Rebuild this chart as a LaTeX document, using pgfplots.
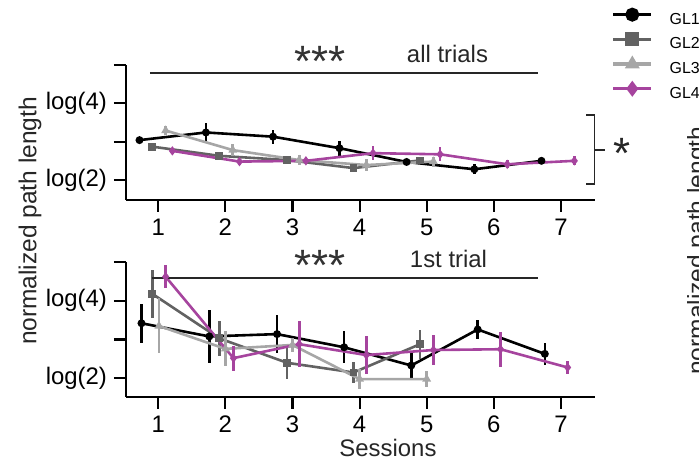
\documentclass[border=0pt]{standalone}
\usepackage{pgfplots}
\usepackage{pgfplotstable}
\pgfplotsset{compat=1.18}
\usepackage{fontspec}
\setmainfont{Liberation Sans}
\definecolor{gltwo}{RGB}{98,98,98}
\definecolor{glthree}{RGB}{166,166,166}
\definecolor{glfour}{RGB}{166,68,158}

% ---- top panel: all trials ----
\pgfplotstableread{
x y e
0.72 3.04 0.06
1.71 3.24 0.24
2.71 3.13 0.18
3.70 2.83 0.20
4.70 2.47 0.08
5.71 2.28 0.13
6.71 2.50 0.02
}\topA
\pgfplotstableread{
x y e
0.91 2.87 0.06
1.91 2.63 0.03
2.92 2.52 0.05
3.91 2.31 0.08
4.90 2.51 0.05
}\topB
\pgfplotstableread{
x y e
1.11 3.29 0.12
2.11 2.78 0.16
3.10 2.52 0.13
4.10 2.39 0.16
5.10 2.48 0.13
}\topC
\pgfplotstableread{
x y e
1.21 2.76 0.08
2.21 2.48 0.08
3.20 2.50 0.06
4.20 2.70 0.18
5.20 2.67 0.18
6.20 2.41 0.10
7.20 2.50 0.12
}\topD
% ---- bottom panel: 1st trial ----
\pgfplotstableread{
x y e
0.75 3.42 0.50
1.76 3.08 0.69
2.77 3.14 0.49
3.77 2.80 0.41
4.77 2.33 0.33
5.76 3.26 0.25
6.76 2.63 0.28
}\botA
\pgfplotstableread{
x y e
0.91 4.18 0.62
1.91 3.03 0.45
2.92 2.40 0.43
3.91 2.15 0.28
4.90 2.88 0.37
}\botB
\pgfplotstableread{
x y e
1.01 3.35 0.71
2.00 2.76 0.45
3.00 2.86 0.18
4.00 1.98 0.25
5.00 1.98 0.20
}\botC
\pgfplotstableread{
x y e
1.11 4.62 0.30
2.12 2.52 0.32
3.10 2.88 0.59
4.10 2.60 0.49
5.10 2.73 0.39
6.10 2.75 0.45
7.10 2.28 0.16
}\botD

\pgfplotsset{
  panel/.style={
    width=234.5bp, height=67.5bp, scale only axis,
    xmin=0.519, xmax=7.508,
    axis x line*=bottom, axis y line*=left,
    axis line style={-, line width=1.1bp, black},
    xtick={1,2,3,4,5,6,7}, ytick={2,3,4,5},
    yticklabels={log(2),,log(4),},
    tick align=outside, major tick length=6bp,
    tick style={line width=1.1bp, black},
    xtick pos=left, ytick pos=left,
    ticklabel style={font=\fontsize{12}{14}\selectfont},
    /pgf/number format/assume math mode=true,
    clip=false,
  },
  glbase/.style={line width=1.3bp, mark size=1.3bp,
    error bars/y dir=both, error bars/y explicit, error bars/error mark=none,
    error bars/error bar style={line width=1.3bp}},
  gla/.style={glbase, black, mark=*},
  glb/.style={glbase, gltwo, mark=square*},
  glc/.style={glbase, glthree, mark=triangle*},
  gld/.style={glbase, glfour, mark=diamond*},
}

\begin{document}
\begin{tikzpicture}
\begin{axis}[panel, at={(63bp,130bp)}, anchor=south west,
  ymin=1.478, ymax=5.0,
  legend style={at={(1.0356,1.4215)}, anchor=north west, draw=none, fill=none,
    inner sep=0pt, outer sep=0pt, font=\fontsize{8}{9}\selectfont,
    nodes={inner sep=0pt, text height=8bp, text depth=4.35bp},
    column sep=8.4bp, row sep=0pt, cells={anchor=west}},
  legend image code/.code={\draw[mark repeat=2, mark phase=2, line width=1.6bp, mark size=2.7bp]
    plot coordinates {(0bp,2.9bp) (9.5bp,2.9bp) (19bp,2.9bp)};},
]
\addplot[gla] table[x=x, y=y, y error=e] {\topA}; \addlegendentry{GL1}
\addplot[glb] table[x=x, y=y, y error=e] {\topB}; \addlegendentry{GL2}
\addplot[glc] table[x=x, y=y, y error=e] {\topC}; \addlegendentry{GL3}
\addplot[gld] table[x=x, y=y, y error=e] {\topD}; \addlegendentry{GL4}
\draw[line width=0.9bp, black!85] (axis cs:0.876,4.79) -- (axis cs:6.656,4.79);
\node[font=\fontsize{22}{22}\selectfont, text=black!80, inner sep=0pt] at (axis cs:3.41,5.10) {***};
\node[font=\fontsize{12}{14}\selectfont, text=black!85, anchor=base, inner sep=0pt] at (axis cs:5.31,5.07) {all trials};
\draw[line width=0.9bp, black!85] (axis cs:7.376,3.696) -- (axis cs:7.501,3.696) -- (axis cs:7.501,1.888) -- (axis cs:7.376,1.888);
\draw[line width=0.9bp, black!85] (axis cs:7.501,2.783) -- (axis cs:7.659,2.783);
\node[font=\fontsize{22}{22}\selectfont, text=black!85, inner sep=0pt] at (axis cs:7.912,2.69) {*};
\end{axis}

\begin{axis}[panel, at={(63bp,31.5bp)}, anchor=south west,
  ymin=1.518, ymax=5.0,
]
\addplot[gla] table[x=x, y=y, y error=e] {\botA};
\addplot[glb] table[x=x, y=y, y error=e] {\botB};
\addplot[glc] table[x=x, y=y, y error=e] {\botC};
\addplot[gld] table[x=x, y=y, y error=e] {\botD};
\draw[line width=0.9bp, black!85] (axis cs:0.90,4.595) -- (axis cs:6.66,4.595);
\node[font=\fontsize{22}{22}\selectfont, text=black!80, inner sep=0pt] at (axis cs:3.41,4.90) {***};
\node[font=\fontsize{12}{14}\selectfont, text=black!85, anchor=base, inner sep=0pt] at (axis cs:5.325,4.87) {1st trial};
\end{axis}

\node[rotate=90, font=\fontsize{12.3}{14}\selectfont, text=black!85, inner sep=0pt] at (15bp,119.5bp) {normalized path length};
\node[font=\fontsize{12}{14}\selectfont, text=black!85, inner sep=0pt] at (194bp,6bp) {Sessions};
\node[rotate=90, anchor=north, font=\fontsize{12.3}{14}\selectfont, text=black!85, inner sep=0pt] at (343.3bp,104.6bp) {normalized path length};

\pgfresetboundingbox
\path[use as bounding box] (0bp,0bp) rectangle (349.5bp,230bp);
\end{tikzpicture}
\end{document}
